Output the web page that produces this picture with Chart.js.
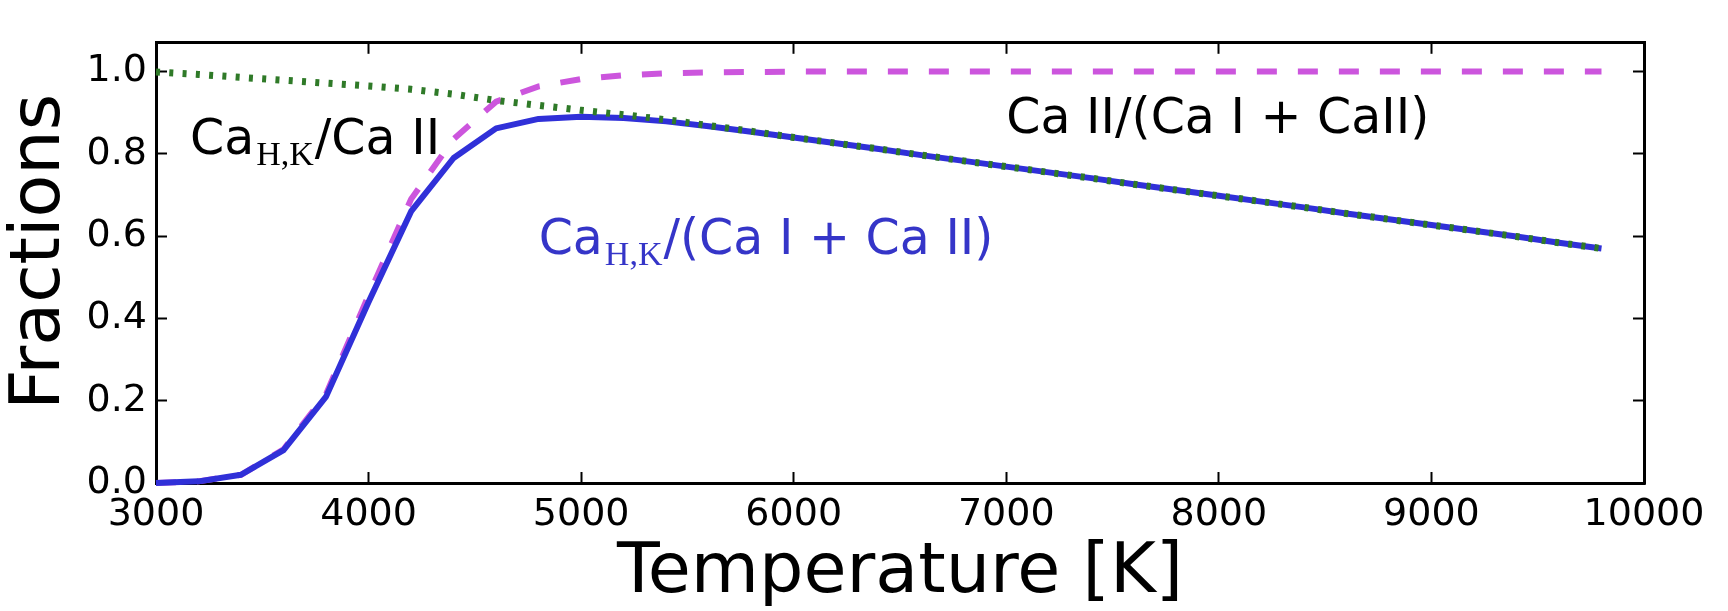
<!DOCTYPE html>
<html>
<head>
<meta charset="utf-8">
<title>Ca fractions vs temperature</title>
<script src="https://cdn.jsdelivr.net/npm/chart.js@4.4.1/dist/chart.umd.min.js"></script>
<style>
  html, body { margin: 0; padding: 0; background: #ffffff; }
  #wrap { width: 1728px; height: 611px; }
</style>
</head>
<body>
<div id="wrap"><canvas id="fractionsChart" width="1728" height="611"></canvas></div>
<script>
// --- data ---
const temperatures = [3000, 3200, 3400, 3600, 3800, 4000, 4200, 4400, 4600, 4800,
  5000, 5200, 5400, 5600, 5800, 6000, 6200, 6400, 6600, 6800,
  7000, 7200, 7400, 7600, 7800, 8000, 8200, 8400, 8600, 8800,
  9000, 9200, 9400, 9600, 9800];

// Ca_H,K / (Ca I + Ca II)  (solid blue)
const caHKOverTotal = [0.000, 0.004, 0.020, 0.080, 0.210, 0.440, 0.660, 0.790, 0.862, 0.885,
  0.890, 0.887, 0.879, 0.867, 0.854, 0.840, 0.826, 0.812, 0.797, 0.783,
  0.769, 0.755, 0.741, 0.726, 0.712, 0.698, 0.684, 0.670, 0.655, 0.641,
  0.627, 0.613, 0.599, 0.584, 0.570];

// Ca_H,K / Ca II  (dashed magenta)
const caHKOverCaII = [0.000, 0.004, 0.020, 0.082, 0.216, 0.456, 0.690, 0.836, 0.927, 0.964,
  0.982, 0.991, 0.996, 0.998, 0.999, 1.000, 1.000, 1.000, 1.000, 1.000,
  1.000, 1.000, 1.000, 1.000, 1.000, 1.000, 1.000, 1.000, 1.000, 1.000,
  1.000, 1.000, 1.000, 1.000, 1.000];

// Ca II / (Ca I + Ca II)  (dotted green)
const caIIOverTotal = [0.999, 0.993, 0.986, 0.979, 0.972, 0.965, 0.957, 0.945, 0.930, 0.918,
  0.906, 0.895, 0.883, 0.869, 0.855, 0.840, 0.826, 0.812, 0.797, 0.783,
  0.769, 0.755, 0.741, 0.726, 0.712, 0.698, 0.684, 0.670, 0.655, 0.641,
  0.627, 0.613, 0.599, 0.584, 0.570];

const xTickValues = [3000, 4000, 5000, 6000, 7000, 8000, 9000, 10000];
const yTickValues = [0.0, 0.2, 0.4, 0.6, 0.8, 1.0];

// text labels placed in data coordinates (like plt.text)
const curveLabels = [
  { x: 3160, y: 0.80, color: "#000000", main: "Ca", sub: "H,K", rest: "/Ca II" },
  { x: 7000, y: 0.85, color: "#000000", main: "Ca II/(Ca I + CaII)", sub: "", rest: "" },
  { x: 4800, y: 0.556, color: "#3535c8", main: "Ca", sub: "H,K", rest: "/(Ca I + Ca II)" },
];

// --- helpers ---
const FONT = "DejaVu Sans";
const toPoints = (values) => values.map((v, i) => ({ x: temperatures[i], y: v }));

const tickGrid = {
  drawOnChartArea: false,
  drawTicks: true,
  tickLength: -11, // inward ticks, matplotlib style
  tickWidth: 2,
  tickColor: "#000000",
};
const frame = { display: true, color: "#000000", width: 3 };

// draws the in-plot labels with the serif subscript
const curveLabelPlugin = {
  id: "curveLabels",
  beforeDatasetsDraw(chart) {
    const { ctx, scales } = chart;
    ctx.save();
    ctx.textAlign = "left";
    ctx.textBaseline = "alphabetic";
    curveLabels.forEach((lbl) => {
      let px = scales.x.getPixelForValue(lbl.x);
      const py = scales.y.getPixelForValue(lbl.y);
      ctx.fillStyle = lbl.color;
      ctx.font = `49px "${FONT}"`;
      ctx.fillText(lbl.main, px, py);
      px += ctx.measureText(lbl.main).width;
      if (lbl.sub) {
        ctx.font = `34px "Liberation Serif"`;
        ctx.fillText(lbl.sub, px + 2, py + 11);
        px += ctx.measureText(lbl.sub).width + 3;
      }
      if (lbl.rest) {
        ctx.font = `49px "${FONT}"`;
        ctx.fillText(lbl.rest, px, py);
      }
    });
    ctx.restore();
  },
};

Chart.defaults.font.family = FONT;
Chart.defaults.color = "#000000";

const ctx = document.getElementById("fractionsChart");

// order: higher number is drawn first (underneath)
new Chart(ctx, {
  type: "line",
  data: {
    datasets: [
      {
        label: "Ca II/(Ca I + CaII)",
        data: toPoints(caIIOverTotal),
        borderColor: "#2f7a28",
        borderWidth: 7,
        borderDash: [4, 9.3],
        order: 1,
      },
      {
        label: "Ca H,K/(Ca I + Ca II)",
        data: toPoints(caHKOverTotal),
        borderColor: "#3030d8",
        borderWidth: 6,
        borderJoinStyle: "round",
        order: 2,
      },
      {
        label: "Ca H,K/Ca II",
        data: toPoints(caHKOverCaII),
        borderColor: "#cc55dd",
        borderWidth: 6,
        borderDash: [20, 21],
        order: 3,
      },
    ],
  },
  options: {
    responsive: false,
    animation: false,
    devicePixelRatio: 1,
    events: [],
    layout: { padding: { top: 12, right: 84, bottom: 0, left: 0 } },
    elements: {
      point: { radius: 0 },
      line: { tension: 0, fill: false },
    },
    datasets: { line: { clip: false } },
    plugins: {
      legend: { display: false },
      tooltip: { enabled: false },
    },
    scales: {
      x: {
        type: "linear",
        position: "bottom",
        min: 3000,
        max: 10000,
        afterFit: (scale) => { scale.height = 128; },
        afterBuildTicks: (scale) => { scale.ticks = xTickValues.map((v) => ({ value: v })); },
        ticks: {
          font: { size: 38 },
          color: "#000000",
          padding: 20,
          maxRotation: 0,
          minRotation: 0,
          autoSkip: false,
          callback: (v) => String(v),
        },
        grid: tickGrid,
        border: frame,
        title: {
          display: true,
          text: "Temperature [K]",
          color: "#000000",
          font: { size: 70, lineHeight: 1 },
          padding: { top: 0, bottom: 2 },
        },
      },
      x2: {
        type: "linear",
        position: "top",
        min: 3000,
        max: 10000,
        afterFit: (scale) => { scale.height = 0; },
        afterBuildTicks: (scale) => { scale.ticks = xTickValues.map((v) => ({ value: v })); },
        ticks: { display: false },
        grid: tickGrid,
        border: frame,
      },
      y: {
        type: "linear",
        position: "left",
        min: 0,
        max: 1.07,
        afterFit: (scale) => { scale.width = 156; },
        afterBuildTicks: (scale) => { scale.ticks = yTickValues.map((v) => ({ value: v })); },
        ticks: {
          font: { size: 38 },
          color: "#000000",
          padding: 20,
          callback: (v) => Number(v).toFixed(1),
        },
        grid: tickGrid,
        border: frame,
        title: {
          display: true,
          // leading space nudges the centred label up a little, as in the original
          text: " Fractions",
          color: "#000000",
          font: { size: 70, lineHeight: 1 },
          padding: { top: 6, bottom: 0 },
        },
      },
      y2: {
        type: "linear",
        position: "right",
        min: 0,
        max: 1.07,
        afterFit: (scale) => { scale.width = 0; },
        afterBuildTicks: (scale) => { scale.ticks = yTickValues.map((v) => ({ value: v })); },
        ticks: { display: false },
        grid: tickGrid,
        border: frame,
      },
    },
  },
  plugins: [curveLabelPlugin],
});
</script>
</body>
</html>
